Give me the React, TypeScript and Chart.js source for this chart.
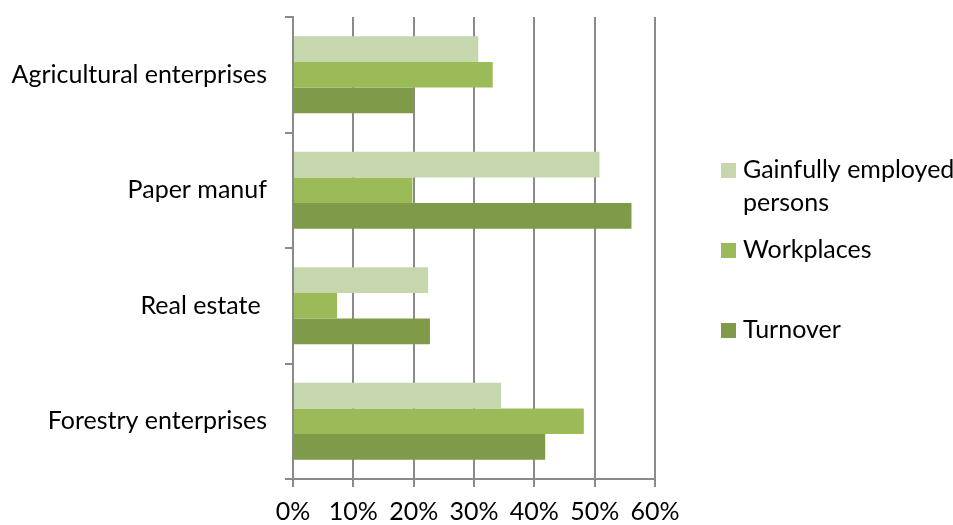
import React, { useEffect, useRef } from "react";
import { Chart, registerables } from "chart.js";

Chart.register(...registerables);

// Categories, top to bottom
const categories = [
  "Agricultural enterprises",
  "Paper manuf",
  "Real estate ",
  "Forestry enterprises",
];

// Shares in percent per category
const gainfullyEmployed = [30.7, 50.8, 22.4, 34.5];
const workplaces = [33.1, 19.8, 7.3, 48.2];
const turnover = [20.1, 56.1, 22.7, 41.8];

const seriesNames = ["Gainfully employed persons", "Workplaces", "Turnover"];
const legendLines = [["Gainfully employed", "persons"], ["Workplaces"], ["Turnover"]];
const seriesColors = ["#C6D6AD", "#9BBB59", "#7F9A48"];

// x axis range in percent
const xMin = 0;
const xMax = 60;
const xStep = 10;

const FONT = "Lato, 'Open Sans', sans-serif";
const FONT_SIZE = 25;
const GRID = "#8A8A8A";

// Legend drawn on the right, wrapping the long label onto two lines
const legendPlugin = {
  id: "sideLegend",
  afterDraw(chart: Chart) {
    const { ctx, chartArea } = chart;
    const boxX = chartArea.right + 66;
    const textX = boxX + 22;
    const box = 15;
    const firstBaselines = [178, 258, 338];
    const lineGap = 33;
    ctx.save();
    ctx.font = `${FONT_SIZE}px ${FONT}`;
    ctx.textBaseline = "alphabetic";
    ctx.textAlign = "left";
    legendLines.forEach((lines, i) => {
      const base = firstBaselines[i];
      ctx.fillStyle = seriesColors[i];
      ctx.fillRect(boxX, base - 15, box, box);
      ctx.fillStyle = "#000000";
      lines.forEach((line, j) => ctx.fillText(line, textX, base + j * lineGap));
    });
    ctx.restore();
  },
};

export default function App() {
  const canvasRef = useRef<HTMLCanvasElement | null>(null);

  useEffect(() => {
    if (!canvasRef.current) return;
    const series = [gainfullyEmployed, workplaces, turnover];
    const chart = new Chart(canvasRef.current, {
      type: "bar",
      data: {
        labels: categories,
        datasets: series.map((values, i) => ({
          label: seriesNames[i],
          data: values,
          backgroundColor: seriesColors[i],
          borderWidth: 0,
          categoryPercentage: 0.665,
          barPercentage: 1,
        })),
      },
      options: {
        indexAxis: "y",
        animation: false,
        responsive: true,
        maintainAspectRatio: false,
        layout: { padding: { left: 0, right: 298, top: 17, bottom: 0 } },
        plugins: {
          legend: { display: false },
          tooltip: { enabled: false },
        },
        scales: {
          x: {
            min: xMin,
            max: xMax,
            ticks: {
              stepSize: xStep,
              color: "#000000",
              font: { family: FONT, size: FONT_SIZE },
              padding: 10,
              callback: (v: any) => `${v}%`,
            },
            grid: {
              color: GRID,
              lineWidth: 2,
              drawTicks: true,
              tickLength: 8,
            },
            border: { display: true, color: GRID, width: 2 },
            afterFit: (scale: any) => {
              scale.height = 46;
              scale.paddingLeft = 0;
              scale.paddingRight = 0;
            },
          },
          y: {
            offset: true,
            ticks: {
              color: "#000000",
              font: { family: FONT, size: FONT_SIZE },
              padding: 18,
            },
            grid: {
              offset: true,
              drawOnChartArea: false,
              drawTicks: true,
              tickLength: 8,
              color: GRID,
              lineWidth: 2,
            },
            border: { display: true, color: GRID, width: 2 },
            afterFit: (scale: any) => {
              scale.width = 293;
              scale.paddingTop = 0;
              scale.paddingBottom = 0;
            },
          },
        },
      },
      plugins: [legendPlugin],
    });
    return () => chart.destroy();
  }, []);

  return (
    <div
      style={{
        position: "fixed",
        left: 0,
        top: 0,
        width: 953,
        height: 525,
        background: "#FFFFFF",
      }}
    >
      <canvas ref={canvasRef} />
    </div>
  );
}
